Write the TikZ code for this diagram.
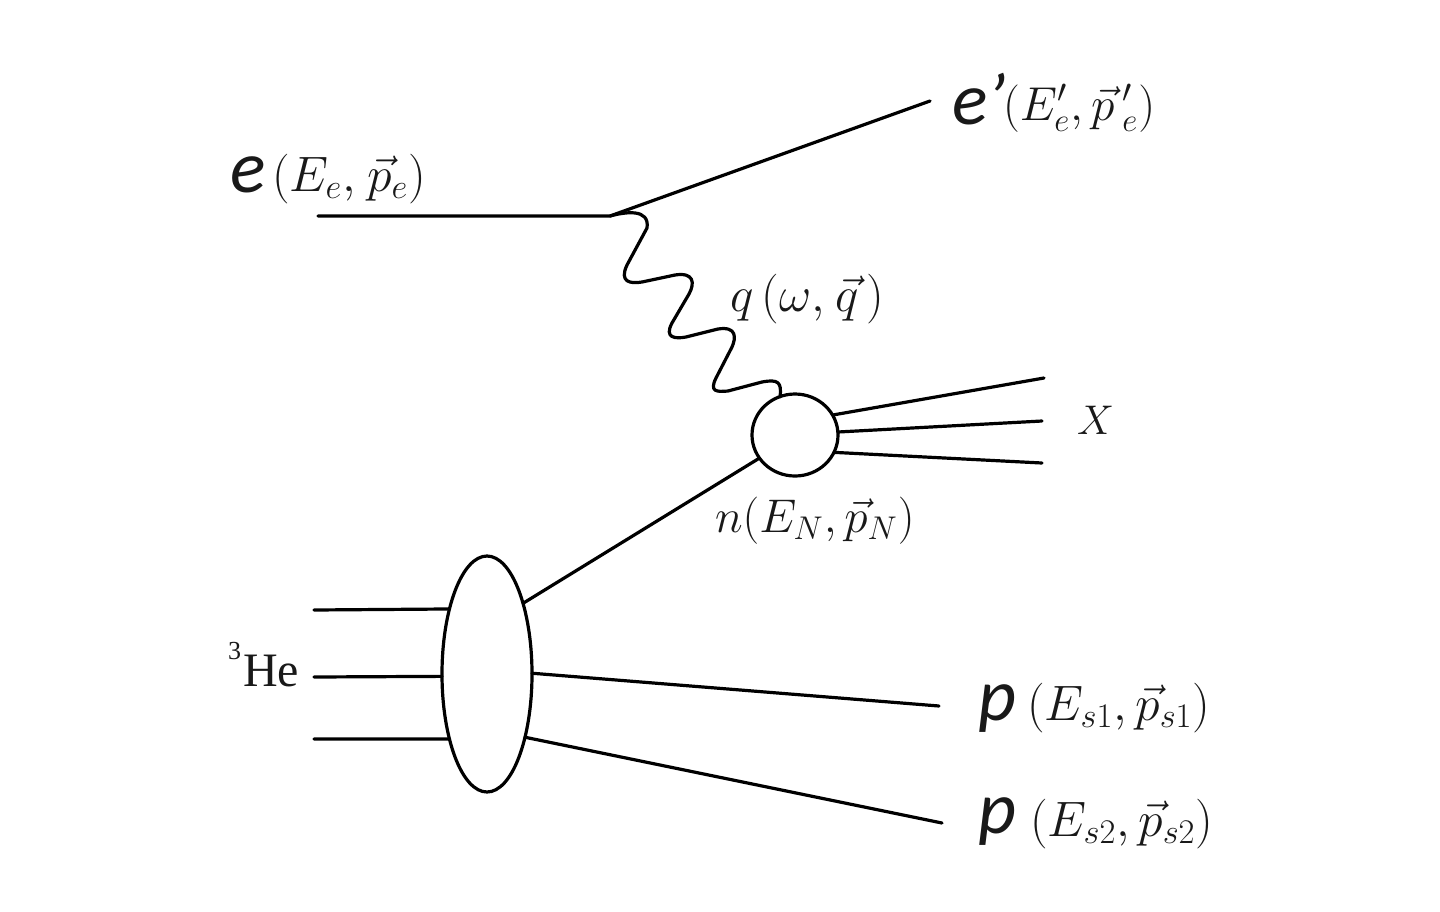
\documentclass[tikz,border=0pt]{standalone}
\usepackage{fontspec}
\usepackage{amsmath}
\setmainfont{Liberation Serif}
\newfontfamily\cali{Carlito}
\usetikzlibrary{shapes.geometric}
\tikzset{
  ln/.style={line width=1.6pt,black,line cap=round,line join=round},
  blob/.style={draw=black,line width=1.6pt,fill=white,inner sep=0pt,outer sep=0pt},
  lab/.style={anchor=base west,inner sep=0pt,outer sep=0pt,text=black!90},
  mth/.style={lab,font=\fontsize{26}{28}\selectfont},
  mthx/.style={lab,font=\fontsize{22}{24}\selectfont},
  big/.style={lab,font=\cali\itshape\fontsize{37}{40}\selectfont}
}
\begin{document}
\begin{tikzpicture}[x=0.5pt,y=-0.5pt]
\useasboundingbox (0,0) rectangle (1440,911);
% vertices
\node[blob,ellipse,minimum width=43pt,minimum height=41pt] (circ) at (795,435) {};
\node[blob,ellipse,minimum width=45pt,minimum height=118pt] (ell) at (487,674) {};
\coordinate (v) at (610,216);
\coordinate (ein) at (318,216);
\coordinate (eout) at (930,101);
\coordinate (x1) at (1044,378);
\coordinate (x2) at (1042,421);
\coordinate (x3) at (1042,463);
\coordinate (h1) at (314,610);
\coordinate (h2) at (314,677);
\coordinate (h3) at (314,739);
\coordinate (p1) at (939,706);
\coordinate (p2) at (942,823);
% electron lines
\draw[ln] (ein) -- (v) -- (eout);
% virtual photon
\draw[ln] (v) .. controls (625,212) and (650,208) .. (647,228)
  -- (627,265) .. controls (619,282) and (630,284) .. (642,282)
  -- (675,275) .. controls (694,272) and (695,283) .. (689,294)
  -- (672,323) .. controls (664,338) and (675,339) .. (686,337)
  -- (718,329) .. controls (737,326) and (736,338) .. (732,347)
  -- (716,378) .. controls (709,392) and (717,392) .. (728,391)
  -- (762,382) .. controls (778,379) and (782,382) .. (780,397);
% outgoing X
\draw[ln] (circ.28) -- (x1);
\draw[ln] (circ.4) -- (x2);
\draw[ln] (circ.-24) -- (x3);
% struck neutron
\draw[ln] (ell.63) -- (circ.213);
% helium lines
\draw[ln] (h1) -- (ell.120.6);
\draw[ln] (h2) -- (ell.183.8);
\draw[ln] (h3) -- (ell.240);
% spectators
\draw[ln] (ell.1.5) -- (p1);
\draw[ln] (ell.-59) -- (p2);
% labels
\node[big] (le) at (230,192) {e};
\node[mth] (lem) at (272,191) {$(E_e,\kern1.5pt\vec p_e)$};
\node[big] (lep) at (952,124) {e’};
\node[mth] (lepm) at (1003,120) {\scalebox{0.955}{$(E_e',\vec p\,'_e)$}};
\node[mth] (lq) at (730,311) {$q\,(\omega,\kern1pt\vec q\,)$};
\node[mthx] (lx) at (1077,434) {$X$};
\node[mth] (ln) at (715,532) {\scalebox{0.95}{$n(E_N,\vec p_N)$}};
\node[lab,font=\fontsize{24}{26}\selectfont] (lhe) at (228,686) {\raisebox{0.55em}{\fontsize{13}{14}\selectfont 3}\kern1pt He};
\node[big] (lp1) at (978,720) {p};
\node[mth] (lp1m) at (1027,720) {$(E_{s1},\vec p_{s1})$};
\node[big] (lp2) at (978,833) {p};
\node[mth] (lp2m) at (1030,836) {$(E_{s2},\vec p_{s2})$};
\end{tikzpicture}
\end{document}
